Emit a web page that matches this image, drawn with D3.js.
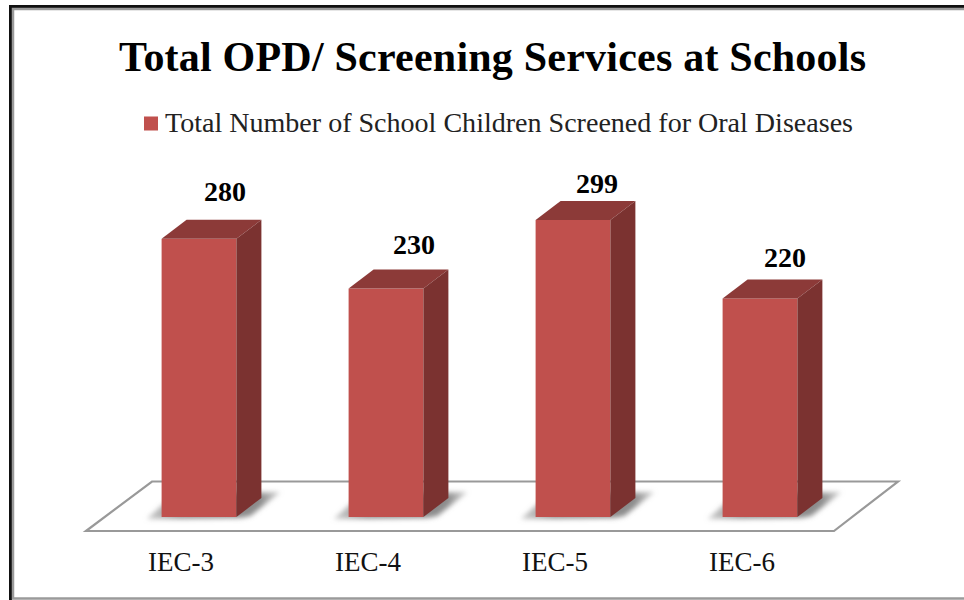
<!DOCTYPE html>
<html>
<head>
<meta charset="utf-8">
<script src="https://cdn.jsdelivr.net/npm/d3@7"></script>
<style>
  html, body { margin: 0; padding: 0; background: #fff; }
  svg { display: block; }
  text { font-family: "Liberation Serif", serif; }
</style>
</head>
<body>
<div id="chart"></div>
<script>
const categories = ['IEC-3', 'IEC-4', 'IEC-5', 'IEC-6'];
const values = [280, 230, 299, 220];
const titleText = 'Total OPD/ Screening Services at Schools';
const legendText = 'Total Number of School Children Screened for Oral Diseases';
// hand placed data labels in the original, [dx, dy] from the default spot
const labelNudge = [[0, -3], [2, 0], [-2, 8], [-1, 4]];

const width = 964, height = 600;
const depthX = 25, depthY = 19;

const svg = d3.select('#chart').append('svg')
    .attr('width', width)
    .attr('height', height);

const defs = svg.append('defs');
defs.append('filter').attr('id', 'blur')
    .attr('x', '-30%').attr('y', '-50%').attr('width', '160%').attr('height', '200%')
    .append('feGaussianBlur').attr('stdDeviation', 2.5);

// shadow fades away from the bar
const fade = defs.append('linearGradient').attr('id', 'fade');
fade.append('stop').attr('offset', '0%').attr('stop-color', '#aaa').attr('stop-opacity', 0.6);
fade.append('stop').attr('offset', '25%').attr('stop-color', '#808080').attr('stop-opacity', 0.9);
fade.append('stop').attr('offset', '85%').attr('stop-color', '#808080').attr('stop-opacity', 0.9);
fade.append('stop').attr('offset', '100%').attr('stop-color', '#b0b0b0').attr('stop-opacity', 0.6);

// frame
svg.append('rect').attr('width', width).attr('height', height).attr('fill', '#fff');
svg.append('path').attr('d', 'M964,6.5H10.5V600').attr('fill', 'none').attr('stroke', '#111').attr('stroke-width', 3);
svg.append('path').attr('d', 'M964,9H13V598.5H964').attr('fill', 'none').attr('stroke', '#9a9a9a').attr('stroke-width', 2.5);

const x = d3.scaleBand().domain(categories).range([105.5, 853.5]).paddingInner(0.6).paddingOuter(0.3);
const y = d3.scaleLinear().domain([0, 300]).range([517, 219]);

// floor
svg.append('path')
    .attr('d', d3.line()([[86, 531], [152, 481.5], [898, 481.5], [834, 531]]) + 'Z')
    .attr('fill', '#fff')
    .attr('stroke', '#999')
    .attr('stroke-width', 2.2);

const bars = svg.append('g').selectAll('g')
    .data(categories.map((c, i) => ({ c, v: values[i], i })))
    .join('g');

// shadow on the floor
bars.append('path')
    .attr('filter', 'url(#blur)')
    .attr('fill', 'url(#fade)')
    .attr('d', d => {
        const x0 = x(d.c), x1 = x0 + x.bandwidth(), b = y(0);
        return d3.line()([[x0 - 15, b + 2], [x0 + 12, b - 22], [x1 + 44, b - 25], [x1 + 14, b - 1], [x1 + 4, b + 1]]) + 'Z';
    });

// front face
bars.append('rect')
    .attr('x', d => x(d.c))
    .attr('y', d => y(d.v))
    .attr('width', x.bandwidth())
    .attr('height', d => y(0) - y(d.v))
    .attr('fill', '#c0504d');

// top face
bars.append('path')
    .attr('fill', '#8c3a38')
    .attr('d', d => {
        const x0 = x(d.c), x1 = x0 + x.bandwidth(), t = y(d.v);
        return d3.line()([[x0, t], [x0 + depthX, t - depthY], [x1 + depthX, t - depthY], [x1, t]]) + 'Z';
    });

// side face
bars.append('path')
    .attr('fill', '#7b3230')
    .attr('d', d => {
        const x1 = x(d.c) + x.bandwidth(), t = y(d.v), b = y(0);
        return d3.line()([[x1, t], [x1 + depthX, t - depthY], [x1 + depthX, b - depthY], [x1, b]]) + 'Z';
    });

// data labels
bars.append('text')
    .attr('x', d => x(d.c) + x.bandwidth() / 2 + 26 + labelNudge[d.i][0])
    .attr('y', d => y(d.v) - 35 + labelNudge[d.i][1])
    .attr('text-anchor', 'middle')
    .attr('font-size', 28)
    .attr('font-weight', 'bold')
    .attr('fill', '#000')
    .text(d => d.v);

// category axis sits on the front edge of the floor
const axis = svg.append('g')
    .attr('transform', 'translate(-18,531)')
    .call(d3.axisBottom(x).tickSize(0).tickPadding(21));
axis.select('.domain').remove();
axis.selectAll('text')
    .attr('font-size', 27)
    .attr('fill', '#111')
    .style('font-family', '"Liberation Serif", serif');

// title
svg.append('text')
    .attr('x', 492.5)
    .attr('y', 71)
    .attr('text-anchor', 'middle')
    .attr('font-size', 42)
    .attr('font-weight', 'bold')
    .attr('fill', '#000')
    .attr('textLength', 747)
    .attr('lengthAdjust', 'spacing')
    .text(titleText);

// legend
svg.append('rect')
    .attr('x', 144)
    .attr('y', 116.5)
    .attr('width', 14)
    .attr('height', 14)
    .attr('fill', '#c0504d');
svg.append('text')
    .attr('x', 165)
    .attr('y', 132)
    .attr('font-size', 28)
    .attr('fill', '#222')
    .attr('textLength', 688)
    .attr('lengthAdjust', 'spacingAndGlyphs')
    .text(legendText);
</script>
</body>
</html>
